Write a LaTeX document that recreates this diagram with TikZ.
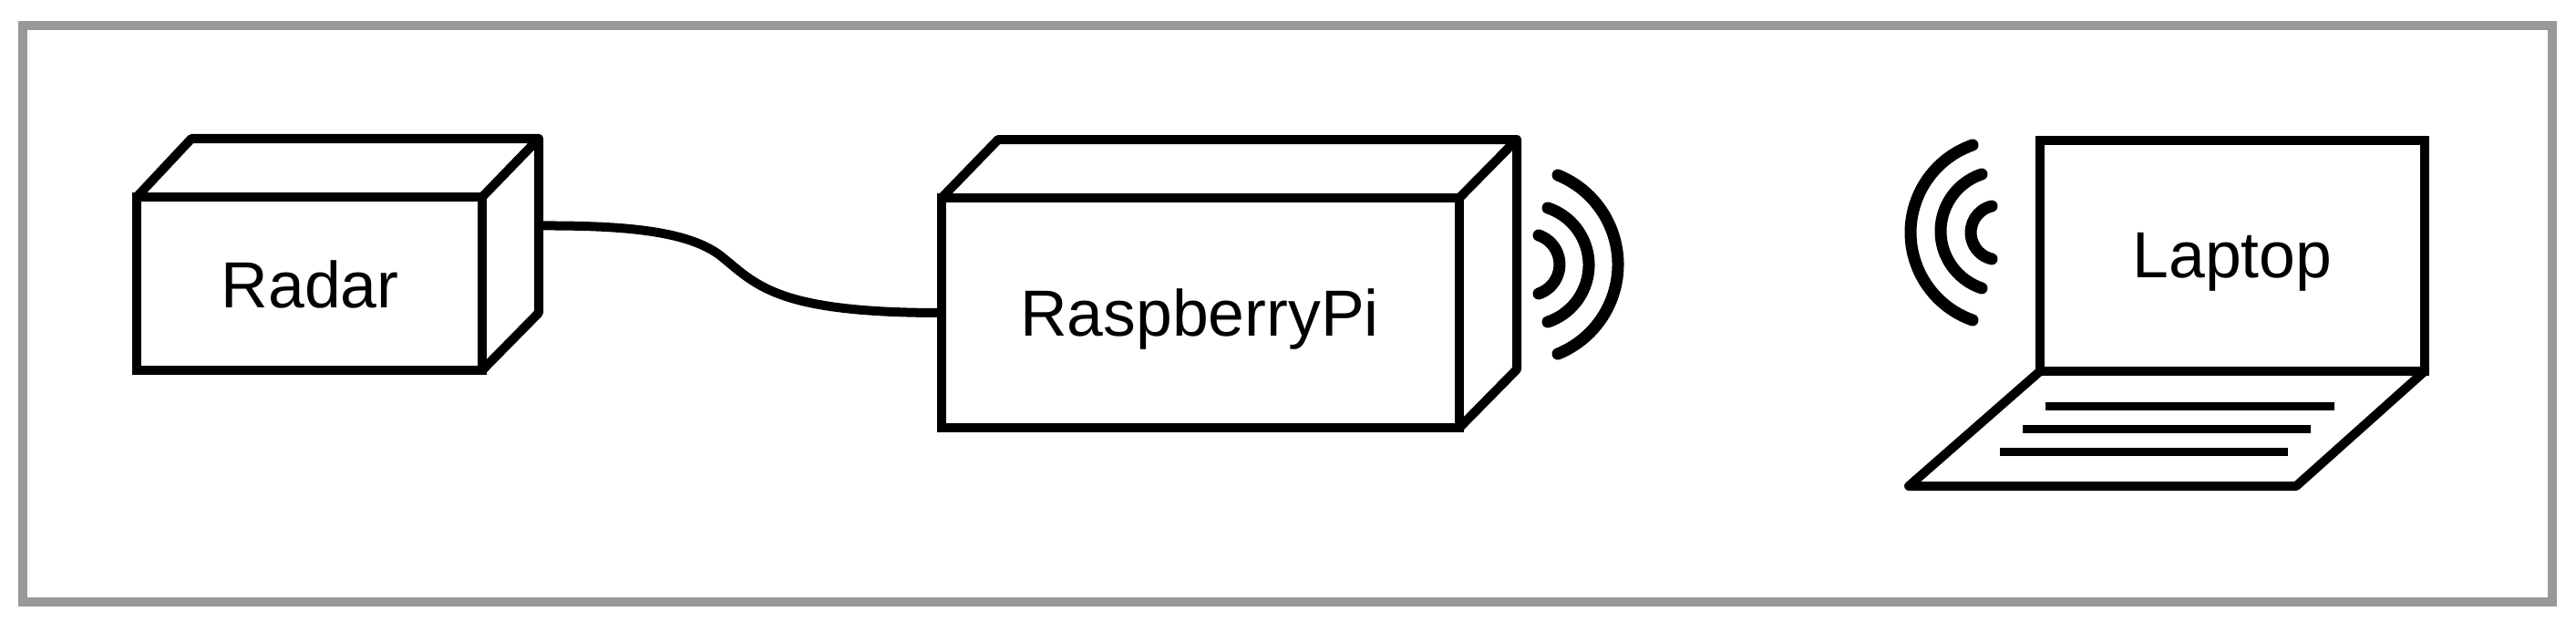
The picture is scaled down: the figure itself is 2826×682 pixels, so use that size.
\documentclass[tikz,border=0pt]{standalone}
\usepackage{fontspec}
\setmainfont{Liberation Sans}
\tikzset{
  ink/.style={draw=black,line width=10pt,line join=round},
  facebox/.style={draw=black,line width=10pt,line join=miter,rectangle,inner sep=0pt,outer sep=0pt,fill=white},
  labeltext/.style={anchor=base,inner sep=0pt,font=\fontsize{71.5}{82}\selectfont},
  wave/.style={draw=black,line width=13pt,line cap=round},
  keyline/.style={draw=black,line width=9pt,line cap=butt},
  framebox/.style={draw=black!40,line width=9.5pt,line join=miter}
}
\begin{document}
\begin{tikzpicture}[x=1pt,y=-1pt]
\useasboundingbox (0,0) rectangle (2826,682);
\fill[white] (0,0) rectangle (2826,682);
\draw[framebox] (25,28) rectangle (2800,660);

% Radar
\node[facebox,minimum width=379pt,minimum height=190pt] (radar) at (339.5,311) {};
\draw[ink] (radar.north west) -- (210,152) -- (591,152) -- (radar.north east);
\draw[ink] (591,152) -- (591,343) -- (radar.south east);
\node[labeltext] (radarlabel) at (340,337) {Radar};
\coordinate (radarside) at (591,247.5);

% Raspberry Pi
\node[facebox,minimum width=568pt,minimum height=252pt] (pi) at (1317,343) {};
\draw[ink] (pi.north west) -- (1095,153) -- (1664,153) -- (pi.north east);
\draw[ink] (1664,153) -- (1664,405) -- (pi.south east);
\node[labeltext] (pilabel) at (1316,368) {RaspberryPi};

% Cable
\draw[ink] (radarside) .. controls (690,247) and (755,254) .. (790,280)
  .. controls (830,312) and (850,343) .. (pi.west);

% Pi waves
\draw[wave] (1709,192) arc[start angle=67.9,end angle=-67.9,radius=105.8pt];
\draw[wave] (1698,228) arc[start angle=71.5,end angle=-71.5,radius=65.9pt];
\draw[wave] (1688,258) arc[start angle=71.2,end angle=-71.2,radius=33.8pt];

% Laptop
\node[facebox,minimum width=422pt,minimum height=253pt] (screen) at (2449,280.5) {};
\draw[ink] (screen.south west) -- (2094,533) -- (2519,533) -- (screen.south east);
\node[labeltext] (laptoplabel) at (2449,304) {Laptop};
\draw[keyline] (2244,445) -- (2561,445);
\draw[keyline] (2219,470) -- (2535,470);
\draw[keyline] (2194,495) -- (2510,495);

% Laptop waves
\draw[wave] (2164,159) arc[start angle=109.4,end angle=250.6,radius=101.8pt];
\draw[wave] (2174,191) arc[start angle=108.5,end angle=251.5,radius=65.9pt];
\draw[wave] (2185,226) arc[start angle=103.3,end angle=256.7,radius=29.8pt];
\end{tikzpicture}
\end{document}
